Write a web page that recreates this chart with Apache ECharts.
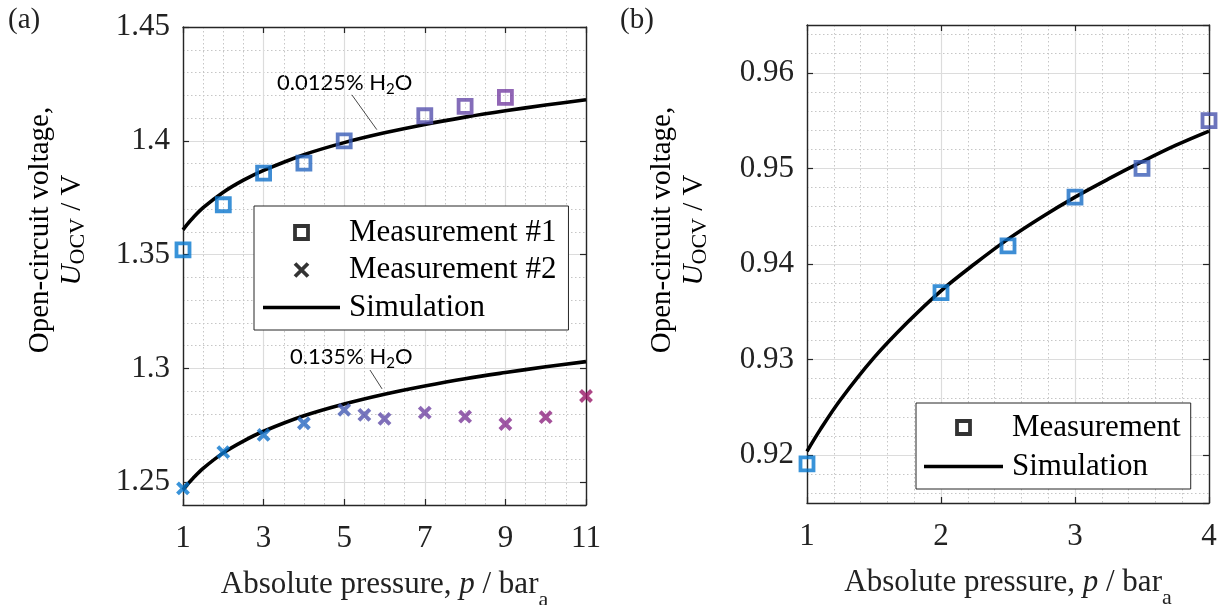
<!DOCTYPE html>
<html>
<head>
<meta charset="utf-8">
<script src="https://cdn.jsdelivr.net/npm/echarts@6/dist/echarts.min.js"></script>
<style>
  html, body { margin: 0; padding: 0; background: #fff; }
  #chart { width: 1227px; height: 605px; }
</style>
</head>
<body>
<div id="chart"></div>
<script>
// (a) measurement #1 (squares)
const pressureM1 = [1, 2, 3, 4, 5, 7, 8, 9];
const voltageM1 = [1.3521, 1.3719, 1.3858, 1.3902, 1.4000, 1.4110, 1.4151, 1.4191];
// (a) measurement #2 (crosses)
const pressureM2 = [1, 2, 3, 4, 5, 5.5, 6, 7, 8, 9, 10, 11];
const voltageM2 = [1.2473, 1.2632, 1.2708, 1.2759, 1.2818, 1.2796, 1.2778, 1.2806, 1.2788, 1.2756, 1.2786, 1.2879];
// (a) simulations
const pressureSimA = [1, 1.1, 1.25, 1.5, 2, 2.5, 3, 4, 5, 6, 7, 8, 9, 10, 11];
const voltageSimDry = [1.3609, 1.3632, 1.3662, 1.3706, 1.3774, 1.3827, 1.3870, 1.3939, 1.3992, 1.4035, 1.4072, 1.4104, 1.4132, 1.4157, 1.4180];
const voltageSimWet = [1.2466, 1.2488, 1.2518, 1.2561, 1.2629, 1.2681, 1.2724, 1.2792, 1.2844, 1.2887, 1.2923, 1.2955, 1.2982, 1.3007, 1.3030];
// annotation leader lines (data coords)
const leaderDry = [[5.19, 1.4202], [5.81, 1.4049]];
const leaderWet = [[5.64, 1.2993], [5.94, 1.2910]];

// (b)
const pressureB = [1, 2, 2.5, 3, 3.5, 4];
const voltageB = [0.9191, 0.9370, 0.9419, 0.9470, 0.9500, 0.9550];
const pressureSimB = [1, 1.1, 1.25, 1.5, 1.75, 2, 2.25, 2.5, 2.75, 3, 3.25, 3.5, 3.75, 4];
const voltageSimB = [0.9204, 0.9227, 0.9258, 0.9302, 0.9339, 0.9372, 0.9400, 0.9426, 0.9449, 0.9470, 0.9489, 0.9507, 0.9524, 0.9539];

// marker colours
const colorsM1 = ['#0678cf', '#0a75cd', '#1071c9', '#2566c0', '#3a5cb6', '#5550ad', '#6548a8', '#7540a2'];
const colorsM2 = ['#0678cf', '#0a75cd', '#1270c8', '#2566c0', '#445ab3', '#5452ad', '#5f4ba8', '#7042a2', '#7a3899', '#862d8d', '#8d2480', '#991868'];
const colorsB = ['#0678cf', '#0a75cd', '#0e72ca', '#176dc6', '#3a5cb6', '#4852ac'];

const serif = "'Liberation Serif', 'Times New Roman', serif";
const ink = '#222';

const chart = echarts.init(document.getElementById('chart'));

function pairs(xs, ys) {
  return xs.map((x, i) => [x, ys[i]]);
}

function marked(xs, ys, colors) {
  return xs.map((x, i) => ({ value: [x, ys[i]], itemStyle: { borderColor: colors[i] } }));
}

const xTitleRich = {
  t: { fontFamily: serif, fontSize: 31, color: ink, lineHeight: 32 },
  i: { fontFamily: serif, fontSize: 31, fontStyle: 'italic', color: ink, lineHeight: 32 },
  s: { fontFamily: serif, fontSize: 22, color: ink, lineHeight: 20, padding: [30, 0, 0, 0] }
};

const yTitleRich = {
  t: { fontFamily: serif, fontSize: 29, color: ink, lineHeight: 32 },
  i: { fontFamily: serif, fontSize: 29, fontStyle: 'italic', color: ink, lineHeight: 32 },
  s: { fontFamily: serif, fontSize: 22, color: ink, lineHeight: 20, padding: [12, 0, 0, 0] }
};

const noteRich = {
  n: { fontFamily: 'Lato', fontSize: 22, color: ink, lineHeight: 24 },
  s: { fontFamily: 'Lato', fontSize: 15, color: ink, lineHeight: 14, padding: [12, 0, 0, 0] }
};

const axisLine = { onZero: false, lineStyle: { color: '#262626', width: 1.4 } };
const axisTick = { inside: true, length: 6, lineStyle: { color: '#262626', width: 1.2 } };
const splitLine = { show: true, lineStyle: { color: '#dcdcdc', width: 1.2 } };
const minorSplitLine = { show: true, lineStyle: { color: '#c6c6c6', width: 1, type: [1.5, 2.5] } };

function xAxisPair(grid, min, max, interval, minor) {
  return [{
    gridIndex: grid, type: 'value', position: 'bottom', min: min, max: max, interval: interval,
    name: '{t|Absolute pressure, }{i|p}{t| / bar}{s|a}',
    nameLocation: 'middle', nameGap: 46,
    nameTextStyle: { rich: xTitleRich },
    axisLine: axisLine, axisTick: axisTick,
    axisLabel: { margin: 18, fontFamily: serif, fontSize: 31, color: ink },
    splitLine: splitLine,
    minorTick: { show: false, splitNumber: minor },
    minorSplitLine: minorSplitLine
  }, {
    gridIndex: grid, type: 'value', position: 'top', min: min, max: max, interval: interval,
    axisLine: axisLine, axisTick: axisTick,
    axisLabel: { show: false }, splitLine: { show: false }
  }];
}

function yAxisPair(grid, min, max, split) {
  return [{
    gridIndex: grid, type: 'value', position: 'left', min: min, max: max, splitNumber: split,
    axisLine: { show: true, onZero: false, lineStyle: axisLine.lineStyle }, axisTick: axisTick,
    axisLabel: { margin: 13, fontFamily: serif, fontSize: 31, color: ink, showMinLabel: false, showMaxLabel: max === 1.45 },
    splitLine: splitLine,
    minorTick: { show: false, splitNumber: 5 },
    minorSplitLine: minorSplitLine
  }, {
    gridIndex: grid, type: 'value', position: 'right', min: min, max: max, splitNumber: split,
    axisLine: { show: true, onZero: false, lineStyle: axisLine.lineStyle }, axisTick: axisTick,
    axisLabel: { show: false }, splitLine: { show: false }
  }];
}

const squareStyle = { color: 'rgba(0,0,0,0)', borderWidth: 3.8 };
const crossStyle = { color: 'rgba(0,0,0,0)', borderWidth: 4 };
const crossPath = 'path://M0,0L10,10M10,0L0,10';
const squarePath = 'path://M0,0H10V10H0Z';
const linePath = 'path://M0,0H80V3.4H0Z';

function simLine(name, xi, yi, data, leader) {
  let s = {
    name: name, type: 'line', xAxisIndex: xi, yAxisIndex: yi,
    data: data, symbol: 'none', smooth: 0.35,
    lineStyle: { color: '#000', width: 3.6 }, itemStyle: { color: '#000' }, z: 2
  };
  if (leader) {
    s.markLine = {
      silent: true, symbol: ['none', 'none'], label: { show: false },
      lineStyle: { color: '#333', width: 0.9, type: 'solid' },
      data: [[{ coord: leader[0] }, { coord: leader[1] }]]
    };
  }
  return s;
}

const legendBase = {
  orient: 'vertical', selectedMode: false,
  backgroundColor: '#fff', borderColor: '#262626', borderWidth: 1, borderRadius: 0,
  itemHeight: 13,
  textStyle: { fontFamily: serif, fontSize: 31, color: '#000', lineHeight: 30, padding: [0, 0, 0, 4] }
};

const legendSquare = { icon: squarePath, itemStyle: { color: 'rgba(0,0,0,0)', borderColor: '#000', borderWidth: 3.8 } };
const legendCross = { icon: crossPath, itemStyle: { color: 'rgba(0,0,0,0)', borderColor: '#000', borderWidth: 3.8 } };
const legendLine = { icon: linePath, itemStyle: { color: '#000', borderWidth: 0 } };

const option = {
  animation: false,
  backgroundColor: '#fff',
  grid: [
    { left: 183, top: 27, width: 403, height: 478, outerBoundsMode: 'none' },
    { left: 807, top: 25, width: 402, height: 478, outerBoundsMode: 'none' }
  ],
  xAxis: xAxisPair(0, 1, 11, 2, 4).concat(xAxisPair(1, 1, 4, 1, 5)),
  yAxis: yAxisPair(0, 1.24, 1.45, 4).concat(yAxisPair(1, 0.915, 0.965, 5)),
  legend: [
    Object.assign({}, legendBase, {
      left: 254, top: 206, itemWidth: 77, itemGap: 6.5,
      padding: [11, 12, 7, 9],
      data: [
        Object.assign({ name: 'Measurement #1' }, legendSquare),
        Object.assign({ name: 'Measurement #2' }, legendCross),
        Object.assign({ name: 'Simulation' }, legendLine)
      ]
    }),
    Object.assign({}, legendBase, {
      left: 916, top: 403, itemWidth: 79, itemGap: 8,
      padding: [9, 10, 7, 8],
      data: [
        Object.assign({ name: 'Measurement' }, legendSquare),
        Object.assign({ name: 'Simulation' }, legendLine)
      ]
    })
  ],
  graphic: [
    { type: 'text', left: 8, top: 6, style: { text: '(a)', fontFamily: serif, fontSize: 29, fill: ink } },
    { type: 'text', left: 620, top: 6, style: { text: '(b)', fontFamily: serif, fontSize: 29, fill: ink } },
    {
      type: 'text', x: 56, y: 230, rotation: Math.PI / 2,
      style: { text: '{t|Open-circuit voltage,}\n{i|U}{s|OCV}{t| / V}', rich: yTitleRich, align: 'center', verticalAlign: 'middle' }
    },
    {
      type: 'text', x: 678, y: 230, rotation: Math.PI / 2,
      style: { text: '{t|Open-circuit voltage,}\n{i|U}{s|OCV}{t| / V}', rich: yTitleRich, align: 'center', verticalAlign: 'middle' }
    },
    {
      type: 'text', x: 277, y: 83,
      style: { text: '{n|0.0125% H}{s|2}{n|O}', rich: noteRich, align: 'left', verticalAlign: 'middle' }
    },
    {
      type: 'text', x: 290, y: 357,
      style: { text: '{n|0.135% H}{s|2}{n|O}', rich: noteRich, align: 'left', verticalAlign: 'middle' }
    }
  ],
  series: [
    simLine('Simulation', 0, 0, pairs(pressureSimA, voltageSimDry), leaderDry),
    simLine('Simulation', 0, 0, pairs(pressureSimA, voltageSimWet), leaderWet),
    {
      name: 'Measurement #1', type: 'scatter', xAxisIndex: 0, yAxisIndex: 0,
      symbol: 'rect', symbolSize: 13, itemStyle: squareStyle, z: 3,
      data: marked(pressureM1, voltageM1, colorsM1)
    },
    {
      name: 'Measurement #2', type: 'scatter', xAxisIndex: 0, yAxisIndex: 0,
      symbol: crossPath, symbolSize: 11, itemStyle: crossStyle, z: 3,
      data: marked(pressureM2, voltageM2, colorsM2)
    },
    simLine('Simulation', 2, 2, pairs(pressureSimB, voltageSimB)),
    {
      name: 'Measurement', type: 'scatter', xAxisIndex: 2, yAxisIndex: 2,
      symbol: 'rect', symbolSize: 13, itemStyle: squareStyle, z: 3,
      data: marked(pressureB, voltageB, colorsB)
    }
  ]
};

chart.setOption(option);
</script>
</body>
</html>
